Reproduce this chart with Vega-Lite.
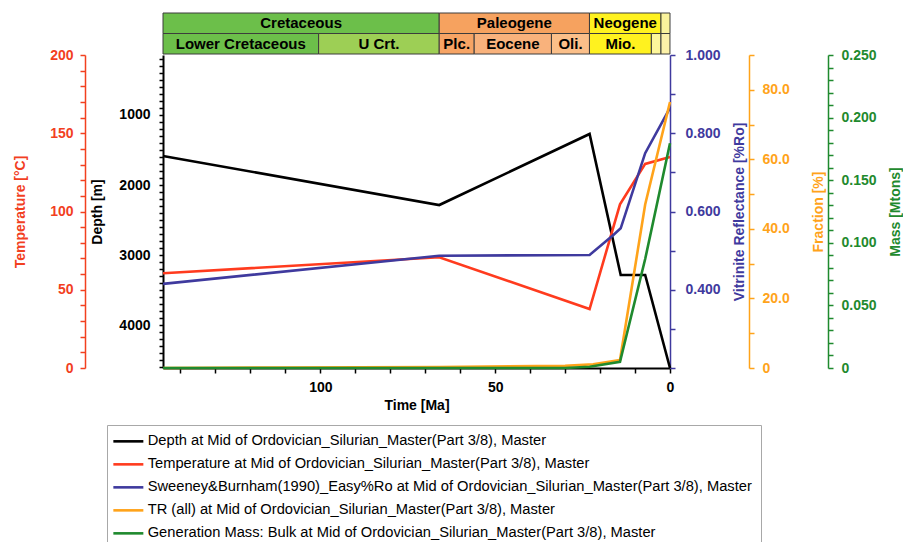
{
  "$schema": "https://vega.github.io/schema/vega-lite/v6.json",
  "width": 507,
  "height": 313,
  "autosize": {"type": "none"},
  "padding": {"left": 163, "top": 55, "right": 233, "bottom": 174},
  "background": "white",
  "config": {
    "view": {"stroke": null},
    "font": "Liberation Sans",
    "axis": {
      "grid": false,
      "labelFont": "Liberation Sans",
      "labelFontSize": 14,
      "labelFontWeight": "bold",
      "titleFont": "Liberation Sans",
      "titleFontSize": 14,
      "titleFontWeight": "bold",
      "labelFlush": false,
      "labelOverlap": false,
      "tickSize": 5,
      "tickWidth": 1.5,
      "domainWidth": 1.5
    },
    "line": {"strokeWidth": 2.6, "strokeJoin": "miter"}
  },
  "datasets": {
    "timescale": [
      {"tier": "period", "unit": "Cretaceous", "label": "Cretaceous", "start": 145, "end": 66},
      {"tier": "period", "unit": "Paleogene", "label": "Paleogene", "start": 66, "end": 23.03},
      {"tier": "period", "unit": "Neogene", "label": "Neogene", "start": 23.03, "end": 2.58},
      {"tier": "period", "unit": "Quaternary", "label": "", "start": 2.58, "end": 0},
      {"tier": "epoch", "unit": "Lower Cretaceous", "label": "Lower Cretaceous", "start": 145, "end": 100.5},
      {"tier": "epoch", "unit": "Upper Cretaceous", "label": "U Crt.", "start": 100.5, "end": 66},
      {"tier": "epoch", "unit": "Paleocene", "label": "Plc.", "start": 66, "end": 56},
      {"tier": "epoch", "unit": "Eocene", "label": "Eocene", "start": 56, "end": 33.9},
      {"tier": "epoch", "unit": "Oligocene", "label": "Oli.", "start": 33.9, "end": 23.03},
      {"tier": "epoch", "unit": "Miocene", "label": "Mio.", "start": 23.03, "end": 5.33},
      {"tier": "epoch", "unit": "Pliocene", "label": "", "start": 5.33, "end": 2.58},
      {"tier": "epoch", "unit": "Pleistocene", "label": "", "start": 2.58, "end": 0.0117}
    ],
    "depth": [
      {"ma": 145, "depth_m": 1586},
      {"ma": 66, "depth_m": 2286},
      {"ma": 23, "depth_m": 1271},
      {"ma": 14.1, "depth_m": 3286},
      {"ma": 7.1, "depth_m": 3286},
      {"ma": 0, "depth_m": 4614}
    ],
    "temperature": [
      {"ma": 145, "temp_c": 60.5},
      {"ma": 66, "temp_c": 70.8},
      {"ma": 23, "temp_c": 37.7},
      {"ma": 14.3, "temp_c": 104.6},
      {"ma": 7.1, "temp_c": 130.4},
      {"ma": 0, "temp_c": 134.8}
    ],
    "easyRo": [
      {"ma": 145, "ro": 0.415},
      {"ma": 66, "ro": 0.487},
      {"ma": 23, "ro": 0.489},
      {"ma": 16.2, "ro": 0.54},
      {"ma": 14.1, "ro": 0.557},
      {"ma": 7.1, "ro": 0.749},
      {"ma": 0, "ro": 0.865}
    ],
    "tr": [
      {"ma": 145, "tr_pct": 0},
      {"ma": 112, "tr_pct": 0.15},
      {"ma": 66, "tr_pct": 0.3},
      {"ma": 30, "tr_pct": 0.6},
      {"ma": 22, "tr_pct": 1.1},
      {"ma": 14.3, "tr_pct": 2.3},
      {"ma": 7.1, "tr_pct": 47},
      {"ma": 0, "tr_pct": 76.5}
    ],
    "mass": [
      {"ma": 145, "mass_mt": 0},
      {"ma": 30, "mass_mt": 0},
      {"ma": 23, "mass_mt": 0.001},
      {"ma": 14.3, "mass_mt": 0.005},
      {"ma": 7.1, "mass_mt": 0.087},
      {"ma": 0, "mass_mt": 0.1795}
    ]
  },
  "layer": [
    {
      "data": {"name": "timescale"},
      "mark": {"type": "rect", "stroke": "#3c3c3c", "strokeWidth": 1},
      "encoding": {
        "x": {"field": "start", "type": "quantitative",
          "scale": {"domain": [0, 145], "reverse": true, "nice": false, "zero": false},
          "axis": {"title": "Time [Ma]", "values": [140, 130, 120, 110, 100, 90, 80, 70, 60, 50, 40, 30, 20, 10, 0], "labelExpr": "datum.value % 50 === 0 ? format(datum.value, 'd') : ''", "domainColor": "black", "domainWidth": 2, "tickColor": "black", "labelColor": "black", "titleColor": "black", "labelPadding": 7, "titlePadding": 4}},
        "x2": {"field": "end"},
        "y": {"field": "tier", "type": "nominal", "scale": {"domain": ["period", "epoch"], "range": [-42, -1], "paddingInner": 0, "paddingOuter": 0}, "axis": null},
        "fill": {"field": "unit", "type": "nominal",
          "scale": {
            "domain": ["Cretaceous", "Paleogene", "Neogene", "Quaternary", "Lower Cretaceous", "Upper Cretaceous", "Paleocene", "Eocene", "Oligocene", "Miocene", "Pliocene", "Pleistocene"],
            "range": ["#6cbf4a", "#f6a25f", "#fff21f", "#faf39c", "#6cbf4a", "#9dcf55", "#f7a464", "#f9b27c", "#fbbf89", "#fff21f", "#fdf69a", "#fcf1a8"]
          },
          "legend": null}
      }
    },
    {
      "data": {"name": "timescale"},
      "transform": [
        {"filter": "datum.label !== ''"},
        {"fold": ["start", "end"], "as": ["edge", "ma"]}
      ],
      "mark": {"type": "text", "font": "Liberation Sans", "fontSize": 15, "fontWeight": "bold", "color": "black"},
      "encoding": {
        "x": {"aggregate": "mean", "field": "ma", "type": "quantitative",
          "scale": {"domain": [0, 145], "reverse": true, "nice": false, "zero": false},
          "axis": {"title": "Time [Ma]", "values": [140, 130, 120, 110, 100, 90, 80, 70, 60, 50, 40, 30, 20, 10, 0], "labelExpr": "datum.value % 50 === 0 ? format(datum.value, 'd') : ''", "domainColor": "black", "domainWidth": 2, "tickColor": "black", "labelColor": "black", "titleColor": "black", "labelPadding": 7, "titlePadding": 4}},
        "y": {"field": "tier", "type": "nominal", "scale": {"domain": ["period", "epoch"], "range": [-42, -1], "paddingInner": 0, "paddingOuter": 0}, "axis": null},
        "text": {"field": "label", "type": "nominal"}
      }
    },
    {
      "data": {"name": "depth"},
      "mark": {"type": "line"},
      "encoding": {
        "x": {"field": "ma", "type": "quantitative",
          "scale": {"domain": [0, 145], "reverse": true, "nice": false, "zero": false},
          "axis": {"title": "Time [Ma]", "values": [140, 130, 120, 110, 100, 90, 80, 70, 60, 50, 40, 30, 20, 10, 0], "labelExpr": "datum.value % 50 === 0 ? format(datum.value, 'd') : ''", "domainColor": "black", "domainWidth": 2, "tickColor": "black", "labelColor": "black", "titleColor": "black", "labelPadding": 7, "titlePadding": 4}},
        "y": {"field": "depth_m", "type": "quantitative",
          "scale": {"domain": [143, 4614], "reverse": true, "nice": false, "zero": false},
          "axis": {"orient": "left", "offset": 0, "title": "Depth [m]",
            "values": [200, 300, 400, 500, 600, 700, 800, 900, 1000, 1100, 1200, 1300, 1400, 1500, 1600, 1700, 1800, 1900, 2000, 2100, 2200, 2300, 2400, 2500, 2600, 2700, 2800, 2900, 3000, 3100, 3200, 3300, 3400, 3500, 3600, 3700, 3800, 3900, 4000, 4100, 4200, 4300, 4400, 4500, 4600],
            "labelExpr": "datum.value % 1000 === 0 ? format(datum.value, 'd') : ''",
            "domainColor": "black", "domainWidth": 2, "tickColor": "black", "tickSize": 4,
            "labelColor": "black", "titleColor": "black", "labelPadding": 9, "titlePadding": 14}},
        "color": {"datum": "Depth at Mid of Ordovician_Silurian_Master(Part 3/8), Master", "type": "nominal",
          "scale": {
            "domain": ["Depth at Mid of Ordovician_Silurian_Master(Part 3/8), Master", "Temperature at Mid of Ordovician_Silurian_Master(Part 3/8), Master", "Sweeney&Burnham(1990)_Easy%Ro at Mid of Ordovician_Silurian_Master(Part 3/8), Master", "TR (all) at Mid of Ordovician_Silurian_Master(Part 3/8), Master", "Generation Mass: Bulk at Mid of Ordovician_Silurian_Master(Part 3/8), Master"],
            "range": ["#000000", "#ff3b1e", "#3f3a9e", "#ffa31a", "#1f8a2e"]
          },
          "legend": {"orient": "none", "legendX": -56, "legendY": 370, "title": null, "direction": "vertical",
            "symbolType": "M-3,0H3", "symbolSize": 100, "symbolStrokeWidth": 3, "symbolOffset": 5,
            "labelOffset": 12, "labelFont": "Liberation Sans", "labelFontSize": 14.7, "labelFontWeight": "normal",
            "labelColor": "black", "labelLimit": 800, "rowPadding": 7, "padding": 9,
            "strokeColor": "#a8a8a8", "fillColor": "white"}}
      }
    },
    {
      "data": {"name": "temperature"},
      "mark": {"type": "line"},
      "encoding": {
        "x": {"field": "ma", "type": "quantitative",
          "scale": {"domain": [0, 145], "reverse": true, "nice": false, "zero": false},
          "axis": {"title": "Time [Ma]", "values": [140, 130, 120, 110, 100, 90, 80, 70, 60, 50, 40, 30, 20, 10, 0], "labelExpr": "datum.value % 50 === 0 ? format(datum.value, 'd') : ''", "domainColor": "black", "domainWidth": 2, "tickColor": "black", "labelColor": "black", "titleColor": "black", "labelPadding": 7, "titlePadding": 4}},
        "y": {"field": "temp_c", "type": "quantitative",
          "scale": {"domain": [0, 200], "nice": false, "zero": false},
          "axis": {"orient": "left", "offset": 78, "title": "Temperature [°C]",
            "values": [0, 10, 20, 30, 40, 50, 60, 70, 80, 90, 100, 110, 120, 130, 140, 150, 160, 170, 180, 190, 200],
            "labelExpr": "datum.value % 50 === 0 ? format(datum.value, 'd') : ''",
            "domainColor": "#f2401f", "tickColor": "#f2401f", "labelColor": "#f2401f", "titleColor": "#f2401f",
            "labelPadding": 7, "titlePadding": 22}},
        "color": {"datum": "Temperature at Mid of Ordovician_Silurian_Master(Part 3/8), Master", "type": "nominal",
          "scale": {
            "domain": ["Depth at Mid of Ordovician_Silurian_Master(Part 3/8), Master", "Temperature at Mid of Ordovician_Silurian_Master(Part 3/8), Master", "Sweeney&Burnham(1990)_Easy%Ro at Mid of Ordovician_Silurian_Master(Part 3/8), Master", "TR (all) at Mid of Ordovician_Silurian_Master(Part 3/8), Master", "Generation Mass: Bulk at Mid of Ordovician_Silurian_Master(Part 3/8), Master"],
            "range": ["#000000", "#ff3b1e", "#3f3a9e", "#ffa31a", "#1f8a2e"]
          },
          "legend": {"orient": "none", "legendX": -56, "legendY": 370, "title": null, "direction": "vertical",
            "symbolType": "M-3,0H3", "symbolSize": 100, "symbolStrokeWidth": 3, "symbolOffset": 5,
            "labelOffset": 12, "labelFont": "Liberation Sans", "labelFontSize": 14.7, "labelFontWeight": "normal",
            "labelColor": "black", "labelLimit": 800, "rowPadding": 7, "padding": 9,
            "strokeColor": "#a8a8a8", "fillColor": "white"}}
      }
    },
    {
      "data": {"name": "easyRo"},
      "mark": {"type": "line"},
      "encoding": {
        "x": {"field": "ma", "type": "quantitative",
          "scale": {"domain": [0, 145], "reverse": true, "nice": false, "zero": false},
          "axis": {"title": "Time [Ma]", "values": [140, 130, 120, 110, 100, 90, 80, 70, 60, 50, 40, 30, 20, 10, 0], "labelExpr": "datum.value % 50 === 0 ? format(datum.value, 'd') : ''", "domainColor": "black", "domainWidth": 2, "tickColor": "black", "labelColor": "black", "titleColor": "black", "labelPadding": 7, "titlePadding": 4}},
        "y": {"field": "ro", "type": "quantitative",
          "scale": {"domain": [0.2, 1.0], "nice": false, "zero": false},
          "axis": {"orient": "right", "offset": 0, "title": "Vitrinite Reflectance [%Ro]", "titleAngle": -90, "titleBaseline": "top",
            "values": [0.2, 0.3, 0.4, 0.5, 0.6, 0.7, 0.8, 0.9, 1.0],
            "labelExpr": "indexof(['0.400', '0.600', '0.800', '1.000'], format(datum.value, '.3f')) >= 0 ? format(datum.value, '.3f') : ''",
            "domainColor": "#3f3a9e", "tickColor": "#3f3a9e", "labelColor": "#3f3a9e", "titleColor": "#3f3a9e",
            "labelPadding": 10, "titlePadding": 12}},
        "color": {"datum": "Sweeney&Burnham(1990)_Easy%Ro at Mid of Ordovician_Silurian_Master(Part 3/8), Master", "type": "nominal",
          "scale": {
            "domain": ["Depth at Mid of Ordovician_Silurian_Master(Part 3/8), Master", "Temperature at Mid of Ordovician_Silurian_Master(Part 3/8), Master", "Sweeney&Burnham(1990)_Easy%Ro at Mid of Ordovician_Silurian_Master(Part 3/8), Master", "TR (all) at Mid of Ordovician_Silurian_Master(Part 3/8), Master", "Generation Mass: Bulk at Mid of Ordovician_Silurian_Master(Part 3/8), Master"],
            "range": ["#000000", "#ff3b1e", "#3f3a9e", "#ffa31a", "#1f8a2e"]
          },
          "legend": {"orient": "none", "legendX": -56, "legendY": 370, "title": null, "direction": "vertical",
            "symbolType": "M-3,0H3", "symbolSize": 100, "symbolStrokeWidth": 3, "symbolOffset": 5,
            "labelOffset": 12, "labelFont": "Liberation Sans", "labelFontSize": 14.7, "labelFontWeight": "normal",
            "labelColor": "black", "labelLimit": 800, "rowPadding": 7, "padding": 9,
            "strokeColor": "#a8a8a8", "fillColor": "white"}}
      }
    },
    {
      "data": {"name": "tr"},
      "mark": {"type": "line"},
      "encoding": {
        "x": {"field": "ma", "type": "quantitative",
          "scale": {"domain": [0, 145], "reverse": true, "nice": false, "zero": false},
          "axis": {"title": "Time [Ma]", "values": [140, 130, 120, 110, 100, 90, 80, 70, 60, 50, 40, 30, 20, 10, 0], "labelExpr": "datum.value % 50 === 0 ? format(datum.value, 'd') : ''", "domainColor": "black", "domainWidth": 2, "tickColor": "black", "labelColor": "black", "titleColor": "black", "labelPadding": 7, "titlePadding": 4}},
        "y": {"field": "tr_pct", "type": "quantitative",
          "scale": {"domain": [0, 90], "nice": false, "zero": false},
          "axis": {"orient": "right", "offset": 79, "title": "Fraction [%]", "titleAngle": -90, "titleBaseline": "top",
            "values": [0, 10, 20, 30, 40, 50, 60, 70, 80, 90],
            "labelExpr": "datum.value === 0 ? '0' : (datum.value % 20 === 0 ? format(datum.value, '.1f') : '')",
            "domainColor": "#ffa31a", "tickColor": "#ffa31a", "labelColor": "#ffa31a", "titleColor": "#ffa31a",
            "labelPadding": 8, "titlePadding": 22}},
        "color": {"datum": "TR (all) at Mid of Ordovician_Silurian_Master(Part 3/8), Master", "type": "nominal",
          "scale": {
            "domain": ["Depth at Mid of Ordovician_Silurian_Master(Part 3/8), Master", "Temperature at Mid of Ordovician_Silurian_Master(Part 3/8), Master", "Sweeney&Burnham(1990)_Easy%Ro at Mid of Ordovician_Silurian_Master(Part 3/8), Master", "TR (all) at Mid of Ordovician_Silurian_Master(Part 3/8), Master", "Generation Mass: Bulk at Mid of Ordovician_Silurian_Master(Part 3/8), Master"],
            "range": ["#000000", "#ff3b1e", "#3f3a9e", "#ffa31a", "#1f8a2e"]
          },
          "legend": {"orient": "none", "legendX": -56, "legendY": 370, "title": null, "direction": "vertical",
            "symbolType": "M-3,0H3", "symbolSize": 100, "symbolStrokeWidth": 3, "symbolOffset": 5,
            "labelOffset": 12, "labelFont": "Liberation Sans", "labelFontSize": 14.7, "labelFontWeight": "normal",
            "labelColor": "black", "labelLimit": 800, "rowPadding": 7, "padding": 9,
            "strokeColor": "#a8a8a8", "fillColor": "white"}}
      }
    },
    {
      "data": {"name": "mass"},
      "mark": {"type": "line"},
      "encoding": {
        "x": {"field": "ma", "type": "quantitative",
          "scale": {"domain": [0, 145], "reverse": true, "nice": false, "zero": false},
          "axis": {"title": "Time [Ma]", "values": [140, 130, 120, 110, 100, 90, 80, 70, 60, 50, 40, 30, 20, 10, 0], "labelExpr": "datum.value % 50 === 0 ? format(datum.value, 'd') : ''", "domainColor": "black", "domainWidth": 2, "tickColor": "black", "labelColor": "black", "titleColor": "black", "labelPadding": 7, "titlePadding": 4}},
        "y": {"field": "mass_mt", "type": "quantitative",
          "scale": {"domain": [0, 0.25], "nice": false, "zero": false},
          "axis": {"orient": "right", "offset": 158, "title": "Mass [Mtons]", "titleAngle": -90, "titleBaseline": "top",
            "values": [0, 0.01, 0.02, 0.03, 0.04, 0.05, 0.06, 0.07, 0.08, 0.09, 0.1, 0.11, 0.12, 0.13, 0.14, 0.15, 0.16, 0.17, 0.18, 0.19, 0.2, 0.21, 0.22, 0.23, 0.24, 0.25],
            "labelExpr": "datum.value === 0 ? '0' : (indexof(['0.050', '0.100', '0.150', '0.200', '0.250'], format(datum.value, '.3f')) >= 0 ? format(datum.value, '.3f') : '')",
            "domainColor": "#1f8a2e", "tickColor": "#1f8a2e", "labelColor": "#1f8a2e", "titleColor": "#1f8a2e",
            "labelPadding": 8, "titlePadding": 12}},
        "color": {"datum": "Generation Mass: Bulk at Mid of Ordovician_Silurian_Master(Part 3/8), Master", "type": "nominal",
          "scale": {
            "domain": ["Depth at Mid of Ordovician_Silurian_Master(Part 3/8), Master", "Temperature at Mid of Ordovician_Silurian_Master(Part 3/8), Master", "Sweeney&Burnham(1990)_Easy%Ro at Mid of Ordovician_Silurian_Master(Part 3/8), Master", "TR (all) at Mid of Ordovician_Silurian_Master(Part 3/8), Master", "Generation Mass: Bulk at Mid of Ordovician_Silurian_Master(Part 3/8), Master"],
            "range": ["#000000", "#ff3b1e", "#3f3a9e", "#ffa31a", "#1f8a2e"]
          },
          "legend": {"orient": "none", "legendX": -56, "legendY": 370, "title": null, "direction": "vertical",
            "symbolType": "M-3,0H3", "symbolSize": 100, "symbolStrokeWidth": 3, "symbolOffset": 5,
            "labelOffset": 12, "labelFont": "Liberation Sans", "labelFontSize": 14.7, "labelFontWeight": "normal",
            "labelColor": "black", "labelLimit": 800, "rowPadding": 7, "padding": 9,
            "strokeColor": "#a8a8a8", "fillColor": "white"}}
      }
    }
  ],
  "resolve": {"scale": {"y": "independent"}, "axis": {"y": "independent"}}
}
